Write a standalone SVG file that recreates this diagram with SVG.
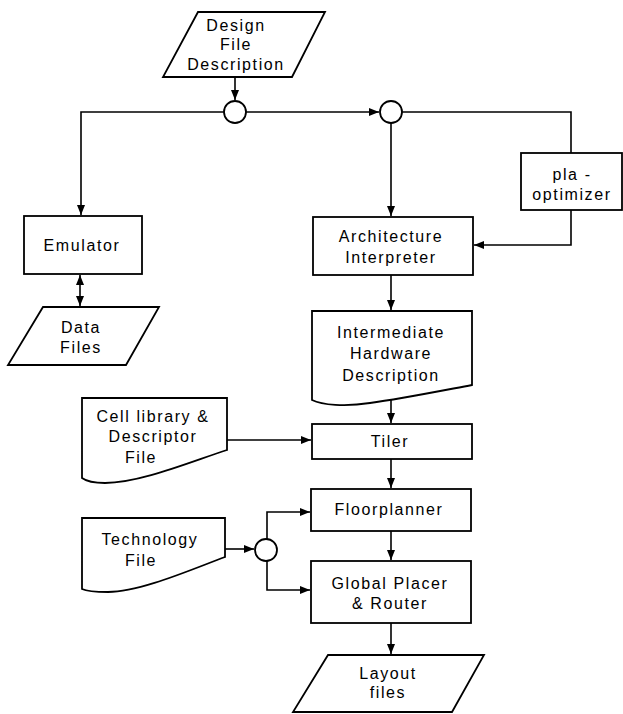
<svg xmlns="http://www.w3.org/2000/svg" width="623" height="714" viewBox="0 0 623 714">
<defs>
<marker id="ah" markerUnits="userSpaceOnUse" markerWidth="10" markerHeight="8" refX="10" refY="4" orient="auto">
<path d="M0,0 L10,4 L0,8 Z" fill="#000"/>
</marker>
<marker id="ahs" markerUnits="userSpaceOnUse" markerWidth="10" markerHeight="8" refX="0" refY="4" orient="auto">
<path d="M10,0 L0,4 L10,8 Z" fill="#000"/>
</marker>
<style>
.s{fill:#fff;stroke:#000;stroke-width:1.8}
.c{fill:none;stroke:#000;stroke-width:1.6}
.t{font-family:"Liberation Sans","DejaVu Sans",sans-serif;font-size:16px;letter-spacing:1.6px;text-anchor:middle;fill:#000}
</style>
</defs>
<rect width="623" height="714" fill="#fff"/>
<g id="connectors">
<path class="c" d="M235,77 V100" marker-end="url(#ah)"/>
<path class="c" d="M224,112 H81 V215" marker-end="url(#ah)"/>
<path class="c" d="M246,112 H379" marker-end="url(#ah)"/>
<path class="c" d="M402,112 H571 V153"/>
<path class="c" d="M391,123 V216" marker-end="url(#ah)"/>
<path class="c" d="M571,210 V245 H474" marker-end="url(#ah)"/>
<path class="c" d="M391,275 V310" marker-end="url(#ah)"/>
<path class="c" d="M391,398 V423" marker-end="url(#ah)"/>
<path class="c" d="M391,459 V488" marker-end="url(#ah)"/>
<path class="c" d="M227,440 H311" marker-end="url(#ah)"/>
<path class="c" d="M391,531 V560" marker-end="url(#ah)"/>
<path class="c" d="M225,549 H254" marker-end="url(#ah)"/>
<path class="c" d="M267,539 V512 H310" marker-end="url(#ah)"/>
<path class="c" d="M267,561 V590 H310" marker-end="url(#ah)"/>
<path class="c" d="M80,275 V306" marker-start="url(#ahs)" marker-end="url(#ah)"/>
<path class="c" d="M391,623 V654" marker-end="url(#ah)"/>
</g>
<g id="junction1"><circle class="s" cx="235" cy="112" r="11"/></g>
<g id="junction2"><circle class="s" cx="391" cy="112" r="11"/></g>
<g id="junction3"><circle class="s" cx="266" cy="550" r="11"/></g>
<g id="design-file">
<path class="s" d="M198,12 H325 L292,77 H163 Z"/>
<text class="t" x="236" y="31">Design</text>
<text class="t" x="236" y="50">File</text>
<text class="t" x="236" y="70">Description</text>
</g>
<g id="emulator">
<rect class="s" x="24" y="216" width="118" height="58"/>
<text class="t" x="82" y="251">Emulator</text>
</g>
<g id="data-files">
<path class="s" d="M43,307 H159 L126,365 H8 Z"/>
<text class="t" x="81" y="333">Data</text>
<text class="t" x="81" y="353">Files</text>
</g>
<g id="pla-optimizer">
<rect class="s" x="521" y="153" width="101" height="57"/>
<text class="t" x="572" y="180">pla -</text>
<text class="t" x="572" y="200">optimizer</text>
</g>
<g id="architecture-interpreter">
<rect class="s" x="313" y="217" width="160" height="58"/>
<text class="t" x="391" y="242">Architecture</text>
<text class="t" x="391" y="263">Interpreter</text>
</g>
<g id="intermediate">
<path class="s" d="M312,311 H472 V385 C440,391 400,399 370,403 C345,407 322,405 312,400 Z"/>
<text class="t" x="391" y="338">Intermediate</text>
<text class="t" x="391" y="359">Hardware</text>
<text class="t" x="391" y="381">Description</text>
</g>
<g id="cell-library">
<path class="s" d="M82,398 H227 V450 C190,462 140,483 105,483 C95,483 86,481 82,478 Z"/>
<text class="t" x="153" y="422">Cell library &amp;</text>
<text class="t" x="153" y="442">Descriptor</text>
<text class="t" x="141" y="463">File</text>
</g>
<g id="tiler">
<rect class="s" x="312" y="424" width="160" height="35"/>
<text class="t" x="390" y="447">Tiler</text>
</g>
<g id="technology-file">
<path class="s" d="M82,518 H225 V557 C190,570 140,592 108,592 C95,592 86,591 82,589 Z"/>
<text class="t" x="150" y="545">Technology</text>
<text class="t" x="141" y="566">File</text>
</g>
<g id="floorplanner">
<rect class="s" x="311" y="489" width="160" height="42"/>
<text class="t" x="389" y="515">Floorplanner</text>
</g>
<g id="global-placer">
<rect class="s" x="311" y="561" width="160" height="62"/>
<text class="t" x="390" y="589">Global Placer</text>
<text class="t" x="390" y="609">&amp; Router</text>
</g>
<g id="layout-files">
<path class="s" d="M328,655 H484 L452,712 H293 Z"/>
<text class="t" x="388" y="679">Layout</text>
<text class="t" x="388" y="698">files</text>
</g>
</svg>
